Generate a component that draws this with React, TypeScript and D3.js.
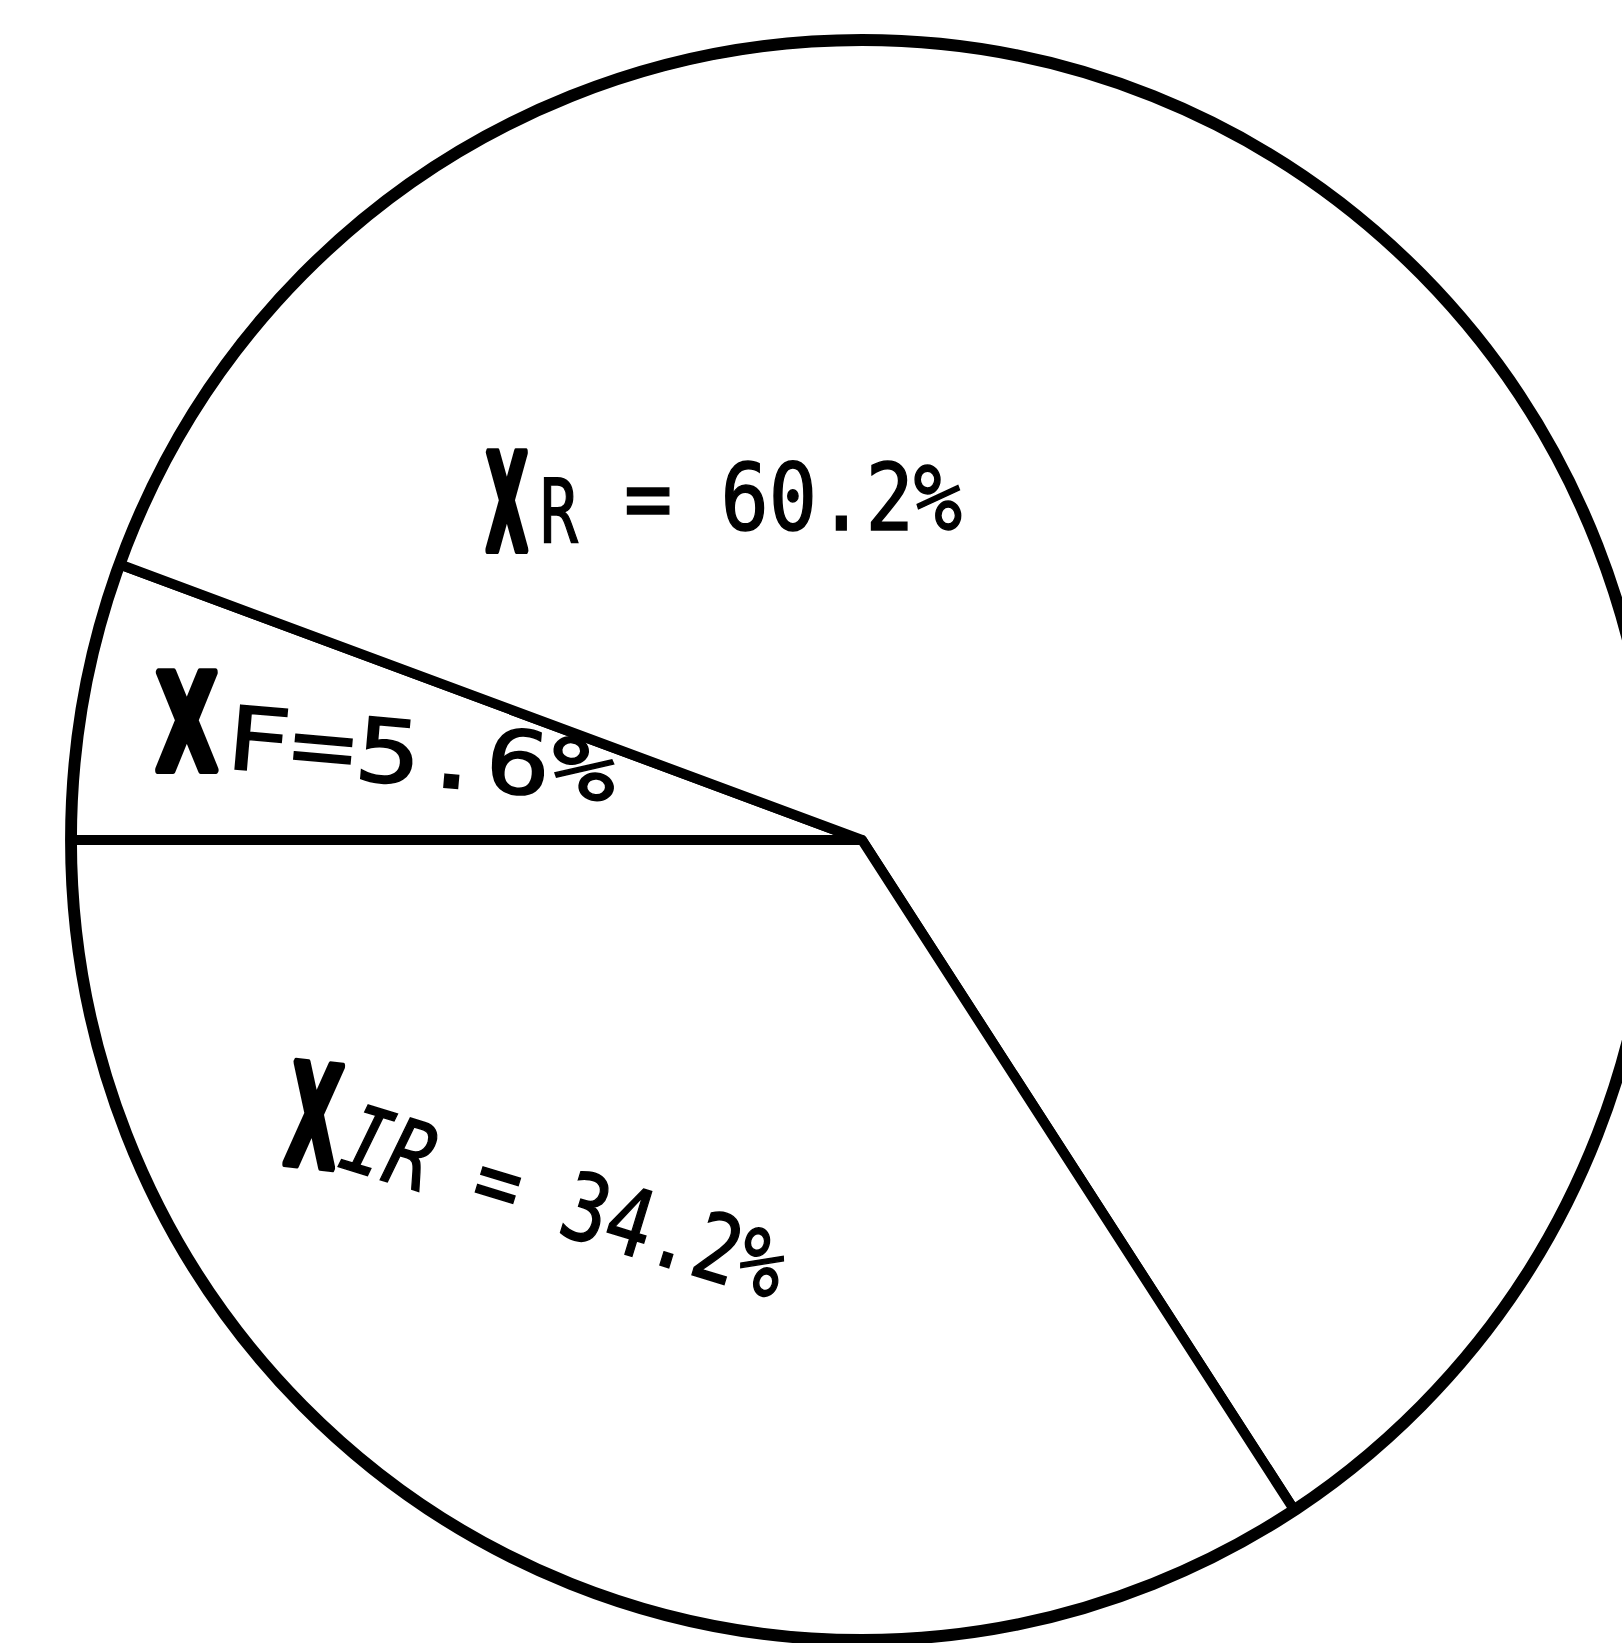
import React from "react";
import * as d3 from "d3";

// ---- data ----
const categories = ["F", "R", "IR"];
const values = [5.6, 60.2, 34.2];
const valueLabels = ["5.6%", "60.2%", "34.2%"];

const W = 1622;
const H = 1643;
const CX = 862;
const CY = 840;
const R = 800;
const SX = 791 / 800; // the drawn circle is slightly narrower than tall

const MONO = "'DejaVu Sans Mono', 'Liberation Mono', monospace";
const SANS = "'DejaVu Sans', 'Liberation Sans', sans-serif";
const X_ADV = 0.774; // advance of bold "X" in DejaVu Sans, in em

export default function App() {
  const pie = d3
    .pie<number>()
    .sort(null)
    .value((d) => d)
    .startAngle(-Math.PI / 2)
    .endAngle((3 * Math.PI) / 2);
  const arcs = pie(values);
  const arc = d3.arc<d3.PieArcDatum<number>>().innerRadius(0).outerRadius(R);

  // heavy, narrow "X" (chi) drawn with a horizontal squeeze
  const chi = (x: number, y: number, w: number, fs: number, rot = 0) => {
    const k = w / (X_ADV * fs);
    return (
      <g transform={`translate(${x},${y}) rotate(${rot}) scale(${k},1)`}>
        <text
          x={0}
          y={0}
          fontFamily={SANS}
          fontWeight="bold"
          fontSize={fs}
          fill="#000"
          stroke="#000"
          strokeWidth={8}
          strokeLinejoin="round"
        >
          X
        </text>
      </g>
    );
  };

  const txt = { fill: "#000", stroke: "#000", strokeWidth: 1.5 };

  return (
    <svg
      width={W}
      height={H}
      viewBox={`0 0 ${W} ${H}`}
      style={{ position: "absolute", left: 0, top: 0, background: "#fff" }}
    >
      <rect x={0} y={0} width={W} height={H} fill="#fff" />
      <g transform={`translate(${CX},${CY}) scale(${SX},1)`}>
        {arcs.map((a, i) => (
          <path
            key={categories[i]}
            d={arc(a) || ""}
            fill="#fff"
            stroke="#000"
            strokeWidth={10}
            strokeLinejoin="round"
          />
        ))}
        <path
          d={d3.arc()({ innerRadius: 0, outerRadius: R, startAngle: 0, endAngle: 2 * Math.PI }) || ""}
          fill="none"
          stroke="#000"
          strokeWidth={12}
        />
      </g>

      {/* XR = 60.2% */}
      {chi(486, 550, 42, 133)}
      <text x={540} y={543} fontFamily={MONO} fontSize={89} textLength={38} lengthAdjust="spacingAndGlyphs" {...txt}>
        {categories[1]}
      </text>
      <text x={624} y={530} fontFamily={MONO} fontSize={93} textLength={338} lengthAdjust="spacingAndGlyphs" {...txt}>
        {"= " + valueLabels[1]}
      </text>

      {/* XF=5.6% */}
      {chi(156, 770, 62, 133)}
      <text
        x={223}
        y={768}
        fontFamily={MONO}
        fontSize={88}
        textLength={392}
        lengthAdjust="spacingAndGlyphs"
        transform="rotate(5 223 768)"
        {...txt}
      >
        {categories[0] + "=" + valueLabels[0]}
      </text>

      {/* XIR = 34.2% */}
      {chi(283, 1163, 52, 140, 6)}
      <text
        x={336}
        y={1166}
        fontFamily={MONO}
        fontSize={93}
        textLength={458}
        lengthAdjust="spacingAndGlyphs"
        transform="rotate(17 336 1166)"
        {...txt}
      >
        <tspan fontStyle="italic">{categories[2]}</tspan>
        {" = " + valueLabels[2]}
      </text>
    </svg>
  );
}
